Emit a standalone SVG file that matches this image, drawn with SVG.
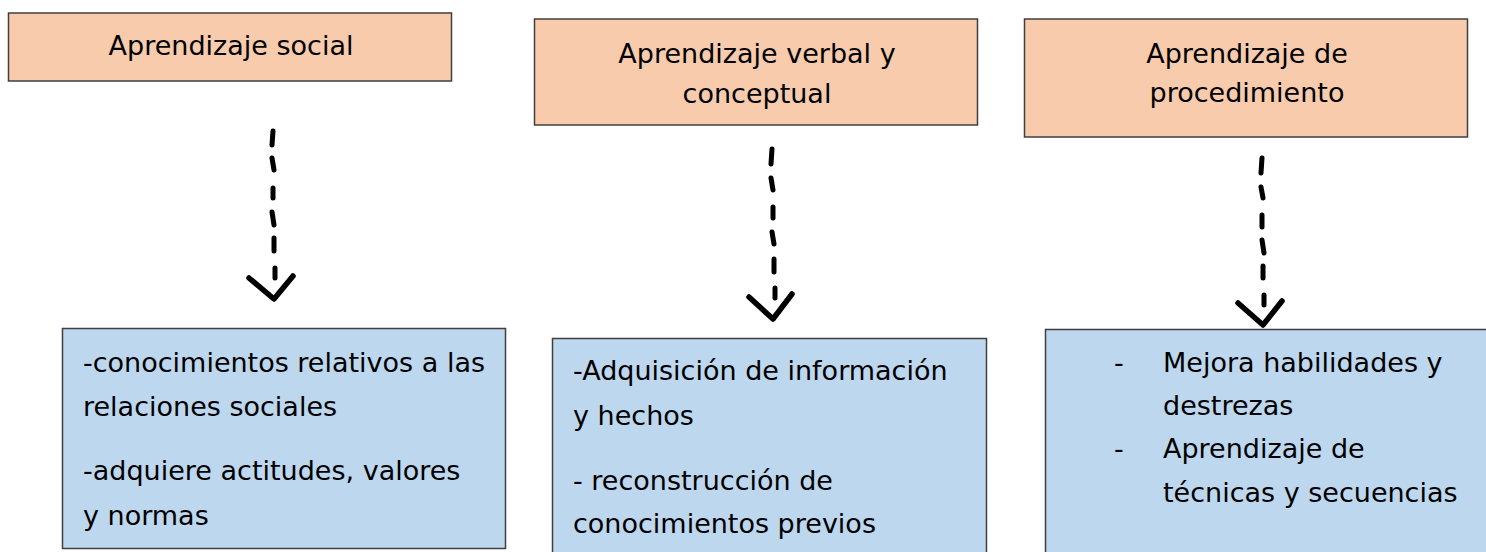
<svg xmlns="http://www.w3.org/2000/svg" width="1486" height="552" viewBox="0 0 1486 552">
<style>
.head{fill:#F8CBAD;stroke:#3f3f3f;stroke-width:1.5}
.body{fill:#BDD7EE;stroke:#3f3f3f;stroke-width:1.5}
text{font-family:"Comic Sans MS","DejaVu Sans",sans-serif;font-size:27px;fill:#000}
.c{text-anchor:middle}
.dash{fill:none;stroke:#000;stroke-width:5;stroke-linecap:round}
.tip{fill:none;stroke:#000;stroke-width:5.5;stroke-linecap:round;stroke-linejoin:round}
</style>
<rect width="1486" height="552" fill="#fff"/>
<g id="n1">
<rect class="head" x="8.5" y="13" width="443" height="68"/>
<text class="c" x="231" y="55">Aprendizaje social</text>
</g>
<g id="n2">
<rect class="head" x="534.5" y="19" width="443" height="106"/>
<text class="c" x="757" y="63">Aprendizaje verbal y</text>
<text class="c" x="757" y="103">conceptual</text>
</g>
<g id="n3">
<rect class="head" x="1024.5" y="19" width="443" height="118"/>
<text class="c" x="1247" y="63">Aprendizaje de</text>
<text class="c" x="1247" y="102">procedimiento</text>
</g>
<g id="n4">
<rect class="body" x="62.5" y="328.5" width="443" height="220"/>
<text x="83" y="372">-conocimientos relativos a las</text>
<text x="83" y="416">relaciones sociales</text>
<text x="83" y="480">-adquiere actitudes, valores</text>
<text x="83" y="525">y normas</text>
</g>
<g id="n5">
<rect class="body" x="552.5" y="338.5" width="434" height="220"/>
<text x="573" y="380">-Adquisición de información</text>
<text x="573" y="425">y hechos</text>
<text x="573" y="490">- reconstrucción de</text>
<text x="573" y="533">conocimientos previos</text>
</g>
<g id="n6">
<rect class="body" x="1045.5" y="329.5" width="450" height="230"/>
<text x="1114" y="372">-</text>
<text x="1163" y="372">Mejora habilidades y</text>
<text x="1163" y="415">destrezas</text>
<text x="1114" y="458">-</text>
<text x="1163" y="458">Aprendizaje de</text>
<text x="1163" y="502">técnicas y secuencias</text>
</g>
<g id="connectors">
<g id="e1">
<path class="dash" d="M273 131 L272 145"/>
<path class="dash" d="M272 158 L274 170"/>
<path class="dash" d="M273 188 L273 198"/>
<path class="dash" d="M272 212 L274 225"/>
<path class="dash" d="M274 238 L274 251"/>
<path class="dash" d="M275 268 L275 278"/>
<path class="tip" d="M249 278 L274 299 L293 276"/>
</g>
<g id="e2">
<path class="dash" d="M772 149 L771 164"/>
<path class="dash" d="M771 178 L773 190"/>
<path class="dash" d="M773 207 L773 218"/>
<path class="dash" d="M772 232 L774 244"/>
<path class="dash" d="M774 259 L774 272"/>
<path class="dash" d="M775 288 L775 298"/>
<path class="tip" d="M749 297 L773 319 L792 294"/>
</g>
<g id="e3">
<path class="dash" d="M1262 158 L1261 173"/>
<path class="dash" d="M1261 187 L1263 198"/>
<path class="dash" d="M1262 215 L1262 227"/>
<path class="dash" d="M1262 240 L1264 253"/>
<path class="dash" d="M1263 266 L1263 278"/>
<path class="dash" d="M1264 295 L1264 305"/>
<path class="tip" d="M1238 303 L1263 325 L1282 301"/>
</g>
</g>
</svg>
